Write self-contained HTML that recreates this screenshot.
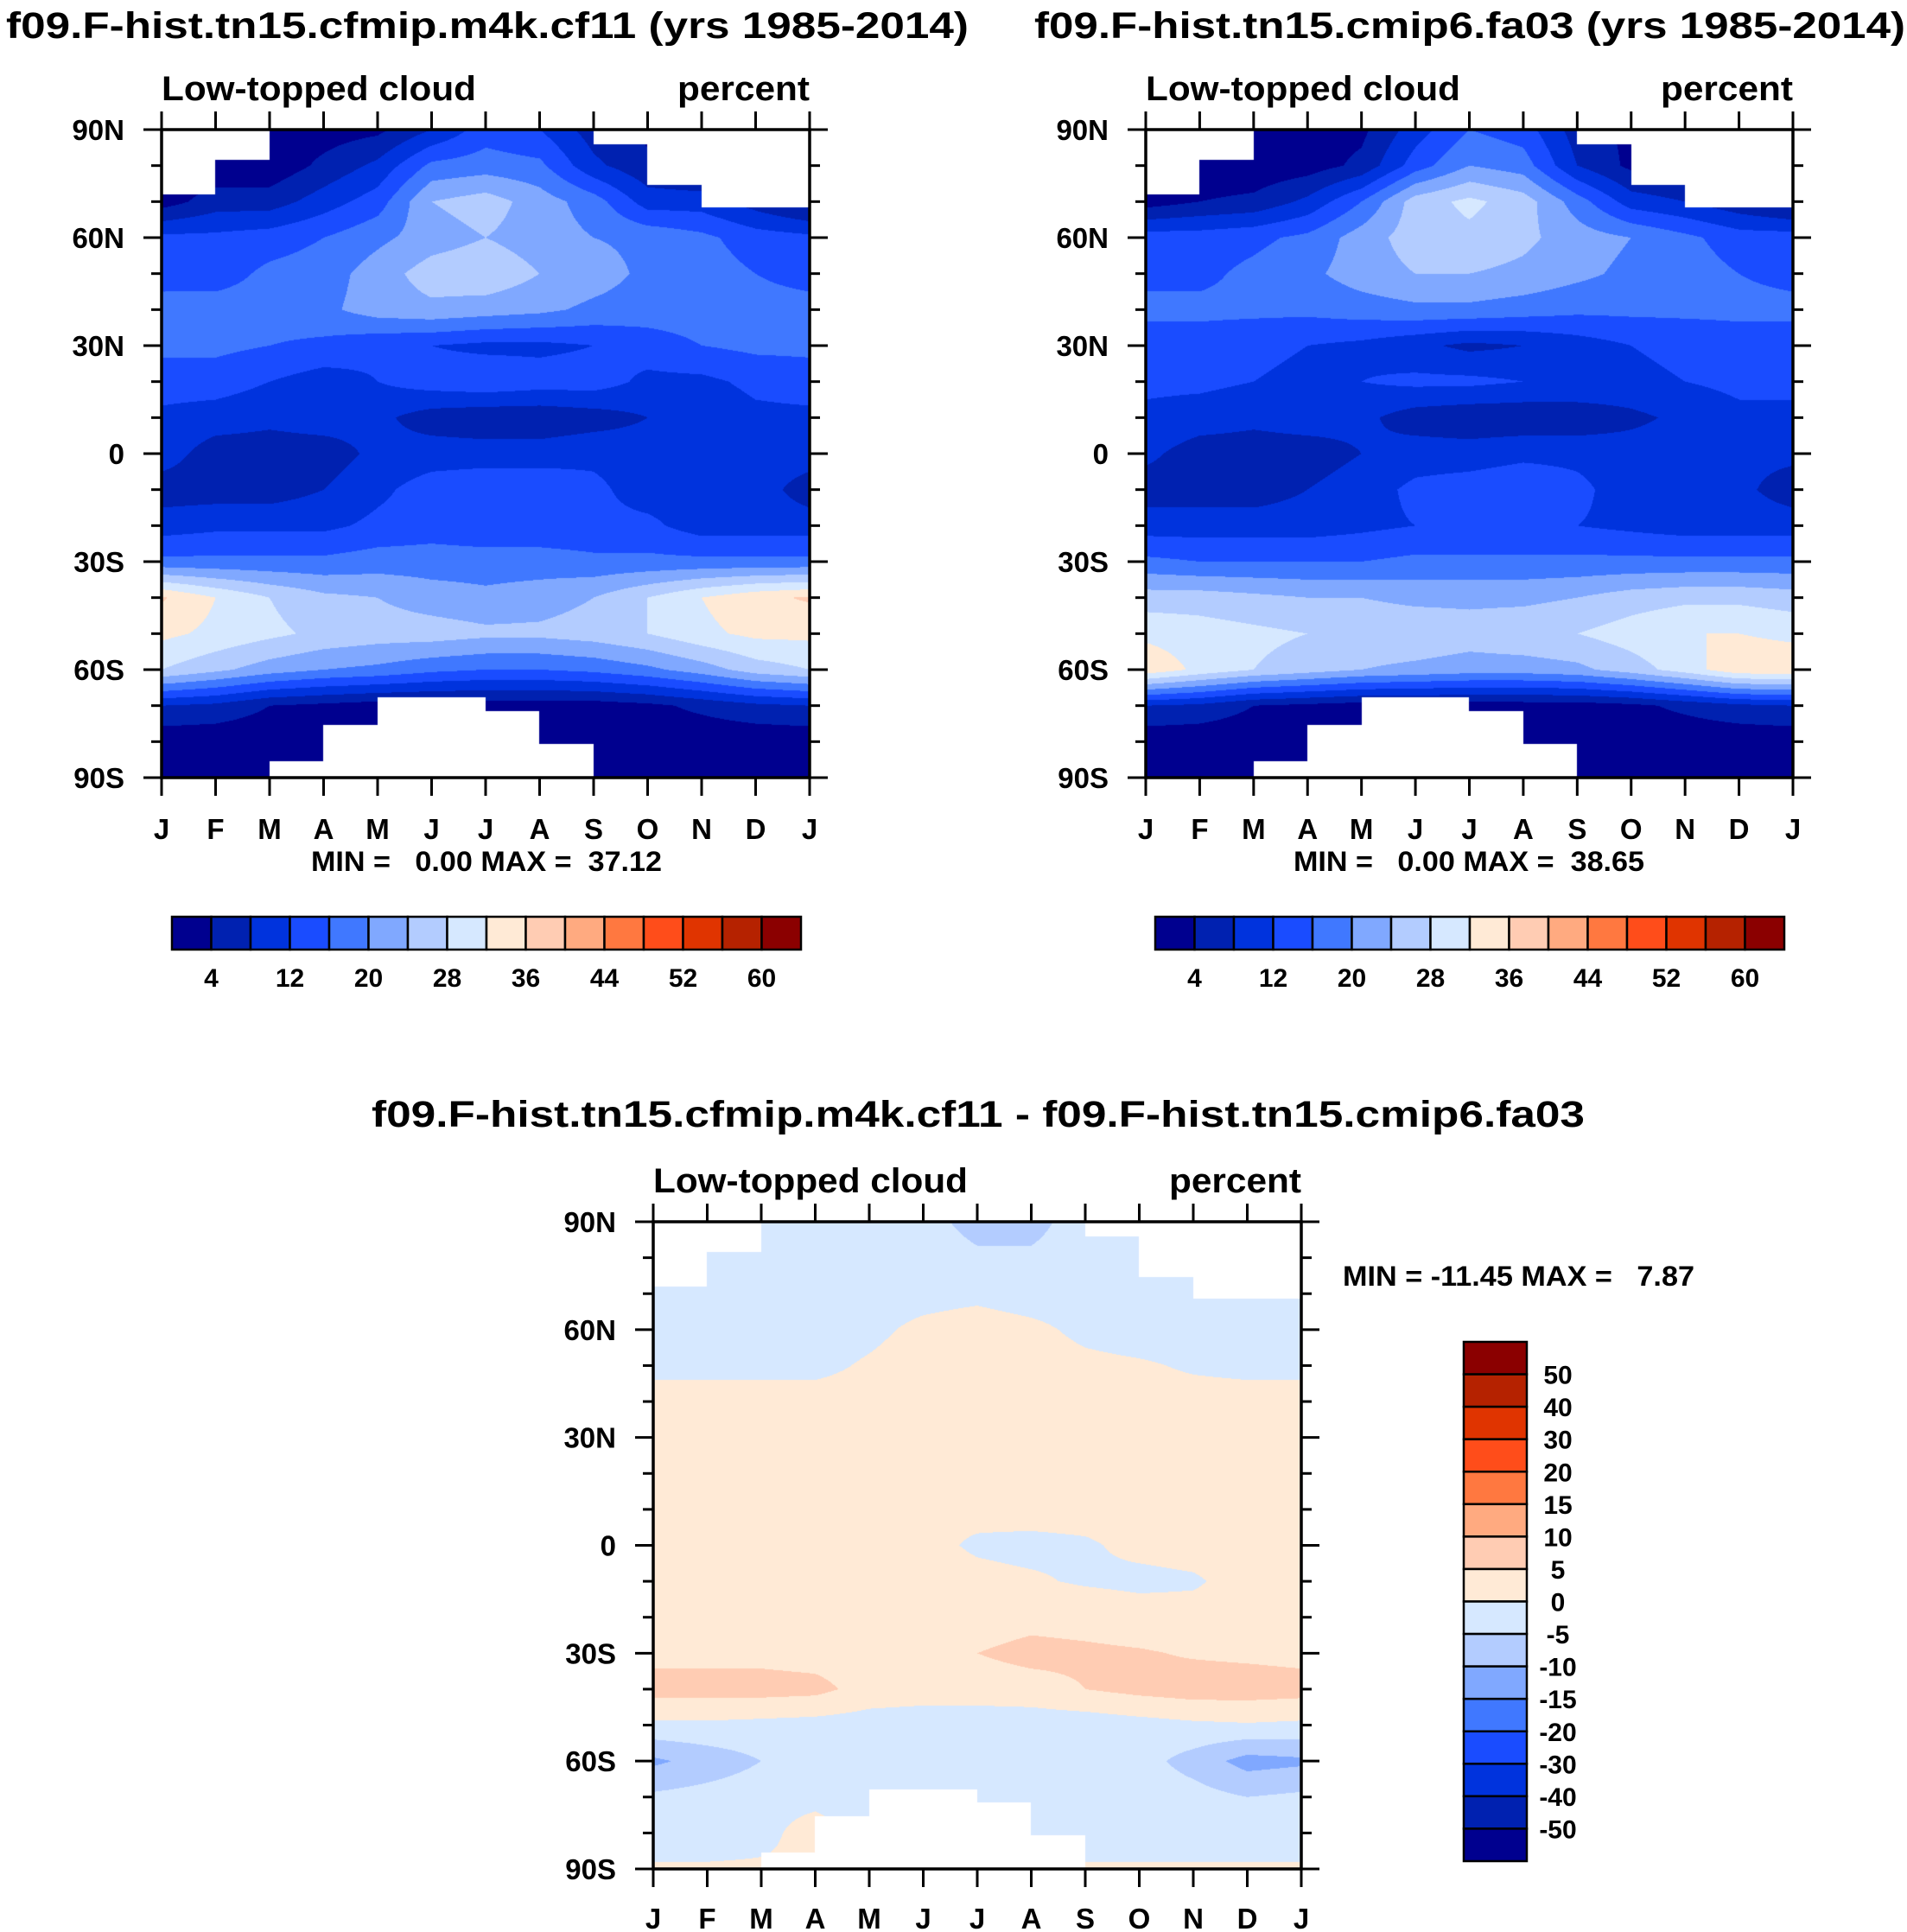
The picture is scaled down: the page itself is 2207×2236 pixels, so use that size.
<!DOCTYPE html>
<html><head><meta charset="utf-8"><style>
body{margin:0;background:#fff;width:2207px;height:2236px;position:relative;overflow:hidden}
canvas{position:absolute}
svg{position:absolute;left:0;top:0}
text{font-family:"Liberation Sans",Arial,sans-serif;font-weight:bold;fill:#000;white-space:pre}
</style></head><body>
<canvas id="c1" style="left:187px;top:150px" width="750" height="750"></canvas>
<canvas id="c2" style="left:1326px;top:150px" width="749" height="750"></canvas>
<canvas id="c3" style="left:756px;top:1414px" width="750" height="749"></canvas>
<svg id="s" width="2207" height="2236"></svg>
<script>
const months=["J","F","M","A","M","J","J","A","S","O","N","D","J"];
const latLabels=["90N","60N","30N","0","30S","60S","90S"];
const levelsA=[4,8,12,16,20,24,28,32,36,40,44,48,52,56,60];
const levelsD=[-50,-40,-30,-20,-15,-10,-5,0,5,10,15,20,30,40,50];
const colors=["#00008F","#0021B0","#0033DD","#1A4CFF","#4078FF","#80A8FF","#B3CCFF","#D6E8FF","#FFEAD6","#FFCCB3","#FFAA80","#FF7840","#FF4D1A","#E03400","#B52200","#8B0000"];
const cbLabelsA=[4,12,20,28,36,44,52,60];
const cbLabelsD=[50,40,30,20,15,10,5,0,-5,-10,-15,-20,-30,-40,-50];
const topMask=[72,81.5,null,null,null,null,null,null,86,74.6,68.5,68.5];
const botMask=[null,null,-85.5,-75.3,-67.8,-67.8,-71.5,-80.7,null,null,null,null];
// rows: 90N,80N,...,90S ; columns: J..D,J
const cf11=[
[2,2,2,2,3,8,14,12,6,3,2,2,2],
[1,1,1,5,9,17,18,17,9,5,3,2,1],
[2,6,6,10,14,24,26,22,18,10,10,6,2],
[13,13,14,16,19,22,24,22,20,19,17,14,13],
[14,14,17,18,22,26,27,24,22,19,18,16,14],
[18,18,18,19,22,23,22,21,19,18,18,18,18],
[17,17,16,15,13,12,11,11,12,14,16,17,17],
[14,14,12,10,12,14,15,14,14,11,11,13,14],
[11,10,9,10,9,6,5,5,6,8,9,11,11],
[10,6,6,6,9,10,10,10,11,10,10,10,10],
[6,6,6,8,11,14,15,15,13,10,10,10,6],
[10,11,11,11,13,14,13,13,13,13,10,10,10],
[17,17,17,17,18,18,18,18,17,17,17,17,17],
[36.5,32,28,25,24,22,21,22,24,28,32,35,36.5],
[33,31,29,27,26,26,25,25,26,28,31,33,33],
[28,25,22,20,19,17,16,16,17,19,22,26,28],
[8,7,4,3,2,2,2,2,2,3,5,7,8],
[1,1,1,1,1,1,1,1,1,1,1,1,1],
[1,1,1,1,1,1,1,1,1,1,1,1,1]];
const fa03=[
[2,2,2,2,3,10,16,14,6,3,2,2,2],
[1,1,1,2,5,14,20,18,8,3,2,2,1],
[2,4,5,9,16,26,29,26,18,10,8,5,2],
[14,14,15,17,22,26,27,25,22,20,17,14,14],
[15,15,17,19,22,24,24,23,21,19,18,16,15],
[17,17,17,17,18,19,19,18,17,17,17,17,17],
[14,14,13,12,11,9,7,8,10,12,13,14,14],
[13,13,12,11,12,13,13,12,12,11,12,13,13],
[11,10,9,10,9,6,5,5,5,7,9,11,11],
[9,6,6,6,8,10,10,11,11,10,10,9,9],
[6,6,6,8,10,13,14,15,13,10,10,9,6],
[10,10,10,10,11,12,12,12,12,11,10,10,10],
[17,16,16,16,16,17,17,17,17,17,17,17,17],
[26,26,25,24,24,23,23,23,24,26,27,27,26],
[31,30,29,28,27,27,26,27,28,30,32,32,31],
[35,31,28,26,24,23,22,22,23,26,30,35,35],
[8,7,4,3,2,2,2,2,2,3,5,7,8],
[1,1,1,1,1,1,1,1,1,1,1,1,1],
[1,1,1,1,1,1,1,1,1,1,1,1,1]];
const diff=[
[-2,-2,-2,-2,-2,-3,-7,-7,-2,-2,-2,-2,-2],
[-2,-2,-2,-2,-2,-2,-4,-4,-2,-2,-2,-2,-2],
[-2,-2,-2,-2,-2,-1.5,-1,-2,-2,-2,-2,-2,-2],
[-2,-2,-2,-2,-1,1,2,1,-1,-2,-2,-2,-2],
[-1,-1,-1,-1,0.5,2,2,2,1,0.5,-0.5,-1,-1],
[1.5,1.5,1.5,1.5,1.5,1.5,1.5,1.5,1.5,1.5,1.5,1.5,1.5],
[1.5,1.5,1.5,1.5,1.5,1.5,1.5,1.5,1.5,1.5,1.5,1.5,1.5],
[1.5,1.5,1.5,1.5,1.5,1.5,1.5,1.5,1.5,1.5,1.5,1.5,1.5],
[1.5,1.5,1.5,1.5,1.5,0.5,1,1.5,1.5,1.5,1.5,1.5,1.5],
[1.5,1.5,1.5,1.5,1.5,1,-0.5,-1,-0.5,1,1.5,1.5,1.5],
[1.5,1,1.5,1.5,1.5,1.5,1,0.5,-0.5,-1,-0.5,1.5,1.5],
[1.5,1.5,1.5,1.5,1.5,2,2.5,3.5,3,2,1.5,1.5,1.5],
[3.5,3.5,3.5,3,2.5,3,5,6.5,6,5.5,4.5,4,3.5],
[7,7,7,6.5,3,2.5,2.5,3,5,6.5,7.5,7.5,7],
[-1,-1,-1.5,-2,-2.5,-3,-3,-3,-3,-2,-1,-0.5,-1],
[-11,-8,-5,-3,-2,-2,-2,-2,-2,-3,-7,-12,-11],
[-4,-3,-2,-2,-2,-2,-2,-2,-2,-2,-3,-5,-4],
[-4,-4,-2,3,-4,-4,-4,-4,-4,-4,-4,-4,-4],
[1,1,1,1,1,1,1,1,1,1,1,1,1]];

function levelIdx(v,lv){let i=0;while(i<lv.length&&v>=lv[i])i++;return i;}
function hex(c){return [parseInt(c.substr(1,2),16),parseInt(c.substr(3,2),16),parseInt(c.substr(5,2),16)];}
const rgb=colors.map(hex);
function drawField(id,data,lv){
  const cv=document.getElementById(id),ctx=cv.getContext('2d');
  const W=cv.width,H=cv.height,img=ctx.createImageData(W,H);
  for(let py=0;py<H;py++){
    const lat=90-(py+0.5)/H*180, r=(90-lat)/10, r0=Math.min(17,Math.floor(r)), fr=r-r0;
    for(let px=0;px<W;px++){
      const m=(px+0.5)/W*12, c0=Math.min(11,Math.floor(m)), fc=m-c0;
      const k=(py*W+px)*4;
      const mi=c0;
      if((topMask[mi]!==null&&lat>topMask[mi])||(botMask[mi]!==null&&lat<botMask[mi])){
        img.data[k]=255;img.data[k+1]=255;img.data[k+2]=255;img.data[k+3]=255;continue;}
      const v=(data[r0][c0]*(1-fc)+data[r0][c0+1]*fc)*(1-fr)+(data[r0+1][c0]*(1-fc)+data[r0+1][c0+1]*fc)*fr;
      const col=rgb[levelIdx(v,lv)];
      img.data[k]=col[0];img.data[k+1]=col[1];img.data[k+2]=col[2];img.data[k+3]=255;
    }
  }
  ctx.putImageData(img,0,0);
}
drawField('c1',cf11,levelsA);
drawField('c2',fa03,levelsA);
drawField('c3',diff,levelsD);

const S=document.getElementById('s'),NS="http://www.w3.org/2000/svg";
function el(tag,attrs,parent){const e=document.createElementNS(NS,tag);for(const k in attrs)e.setAttribute(k,attrs[k]);(parent||S).appendChild(e);return e;}
function txt(x,y,s,size,anchor,len){const t=el('text',{x:x,y:y,'font-size':size,'text-anchor':anchor||'start'});if(len){t.setAttribute('textLength',len);t.setAttribute('lengthAdjust','spacingAndGlyphs');}t.textContent=s;return t;}

function axes(x0,y0,w,h,name,mBase){
  const g=el('g',{});
  
  
  el('rect',{x:x0,y:y0,width:w,height:h,fill:'none',stroke:'#000','stroke-width':3.5},g);
  for(let i=0;i<=18;i++){
    const y=y0+i/18*h, major=i%3===0, L=major?21:12;
    el('line',{x1:x0-L,y1:y,x2:x0,y2:y,stroke:'#000','stroke-width':3},g);
    el('line',{x1:x0+w,y1:y,x2:x0+w+L,y2:y,stroke:'#000','stroke-width':3},g);
    if(major){const t=txt(x0-43,y+12,latLabels[i/3],33,'end');g.appendChild(t);}
  }
  for(let i=0;i<=12;i++){
    const x=x0+i/12*w;
    el('line',{x1:x,y1:y0-21,x2:x,y2:y0,stroke:'#000','stroke-width':3},g);
    el('line',{x1:x,y1:y0+h,x2:x,y2:y0+h+21,stroke:'#000','stroke-width':3},g);
    const t=txt(x,mBase,months[i],33,'middle');
    g.appendChild(t);
  }
}
axes(187,150,750,750,'panel-cf11',971);
axes(1326,150,749,750,'panel-fa03',971);
axes(756,1414,750,749,'panel-diff',2232);

let t;
t=txt(7,44,"f09.F-hist.tn15.cfmip.m4k.cf11 (yrs 1985-2014)",43,'start',1114);

t=txt(1197,44,"f09.F-hist.tn15.cmip6.fa03 (yrs 1985-2014)",43,'start',1008);

t=txt(430,1304,"f09.F-hist.tn15.cfmip.m4k.cf11 - f09.F-hist.tn15.cmip6.fa03",43,'start',1404);

[[187,937,116],[1326,2075,116],[756,1506,1380]].forEach(p=>{
  t=txt(p[0],p[2],"Low-topped cloud",40,'start',364);
  
  t=txt(p[1],p[2],"percent",40,'end',153);
  
});
t=txt(360,1008,"MIN =   0.00 MAX =  37.12",32,'start',406);

t=txt(1497,1008,"MIN =   0.00 MAX =  38.65",32,'start',406);

t=txt(1554,1488,"MIN = -11.45 MAX =   7.87",32,'start',407);


function hbar(x0,name){
  const g=el('g',{});
  const w=728/16;
  for(let i=0;i<16;i++){el('rect',{x:x0+i*w,y:1061,width:w,height:38,fill:colors[i],stroke:'#000','stroke-width':2.5},g);}
  cbLabelsA.forEach((v,j)=>{const tt=txt(x0+(2*j+1)*w,1142,String(v),30,'middle');g.appendChild(tt);});
}
hbar(199,'colorbar-cf11');
hbar(1337,'colorbar-fa03');
(function(){
  const g=el('g',{});
  const h=601/16;
  for(let i=0;i<16;i++){el('rect',{x:1694,y:1553+i*h,width:73,height:h,fill:colors[15-i],stroke:'#000','stroke-width':2.5},g);}
  cbLabelsD.forEach((v,j)=>{const tt=txt(1803,1553+(j+1)*h+11,String(v),30,'middle');g.appendChild(tt);});
})();
</script>
</body></html>
